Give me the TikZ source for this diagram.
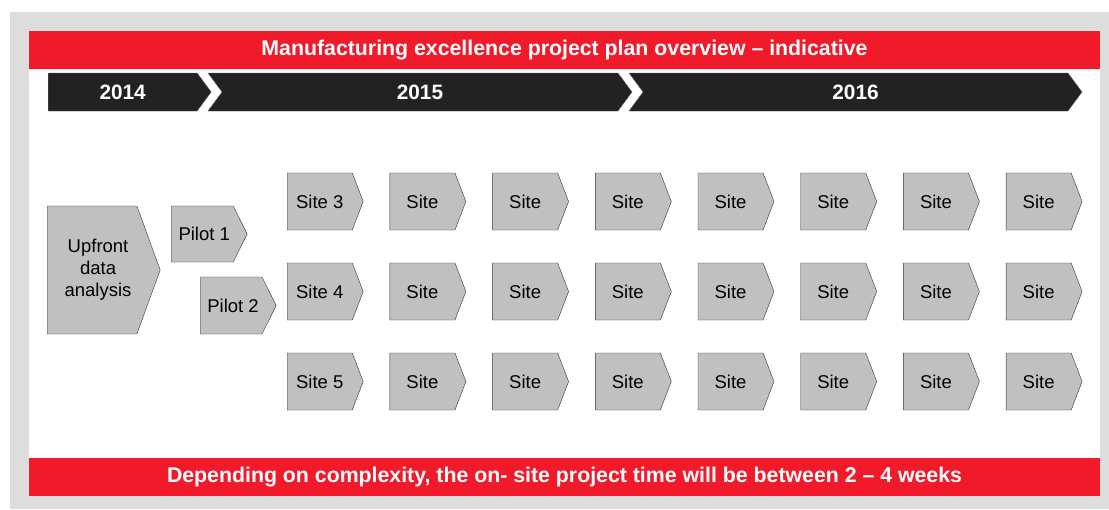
\documentclass[tikz,border=0pt]{standalone}
\usepackage{fontspec}
\setmainfont{Liberation Sans}
\usetikzlibrary{shapes.symbols}
\definecolor{bandred}{RGB}{240,26,43}
\definecolor{bargrey}{RGB}{34,34,34}
\definecolor{boxgrey}{RGB}{192,192,192}
\definecolor{framegrey}{RGB}{221,221,221}
\tikzset{
  year node/.style={signal,signal to=east,fill=bargrey,draw=black!60,text=white,
    font=\bfseries\fontsize{20.8}{24}\selectfont,minimum height=38pt,inner sep=0pt,
    signal pointer angle=107},
  site node/.style={signal,signal to=east,fill=boxgrey,draw=black!80,anchor=west,
    font=\fontsize{18.5}{22}\selectfont,minimum width=76pt,minimum height=57pt,
    inner sep=0pt,signal pointer angle=138},
  band node/.style={fill=bandred,text=white,font=\bfseries\fontsize{21.3}{24}\selectfont,
    minimum width=1071pt,minimum height=38pt,inner sep=0pt},
}
\begin{document}
\begin{tikzpicture}[x=1pt,y=-1pt]
  %% Frame
  \useasboundingbox (0,0) rectangle (1109,509);
  \fill[framegrey] (10,12) rectangle (1109,509);
  \fill[white] (29,31) rectangle (1100,496);
  %% Bands
  \node[band node] (title) at (564.5,50) {Manufacturing excellence project plan overview – indicative};
  \node[band node] (note) at (564.5,477) {Depending on complexity, the on- site project time will be between 2 – 4 weeks};
  %% Years
  \node[year node,minimum width=163pt,anchor=west] (y2014) at (48,92) {2014};
  \node[year node,minimum width=424pt,signal from=west] (y2015) at (420,92) {2015};
  \node[year node,minimum width=453pt,signal from=west] (y2016) at (855.5,92) {2016};
  %% Start
  \node[site node,minimum width=113pt,minimum height=128pt,signal pointer angle=140,
    align=center] (upfront) at (47,270)
    {\hspace*{12pt}Upfront\\\hspace*{12pt}data\\\hspace*{12pt}analysis};
  \node[site node,minimum height=56pt,signal pointer angle=127] (pilot1) at (171,234) {\hspace*{4pt}Pilot 1};
  \node[site node,signal pointer angle=127] (pilot2) at (200,305.5) {\hspace*{4pt}Pilot 2};
  %% Sites
  \foreach \c in {0,...,7}
    \foreach \r in {0,1,2} {
      \pgfmathtruncatemacro\n{\r+3}
      \ifnum\c=0 \def\lbl{Site \n}\else\def\lbl{Site}\fi
      \node[site node] (site-\c-\r) at ({287+102.7*\c},{201.5+90*\r}) {\lbl};
    }
\end{tikzpicture}
\end{document}
